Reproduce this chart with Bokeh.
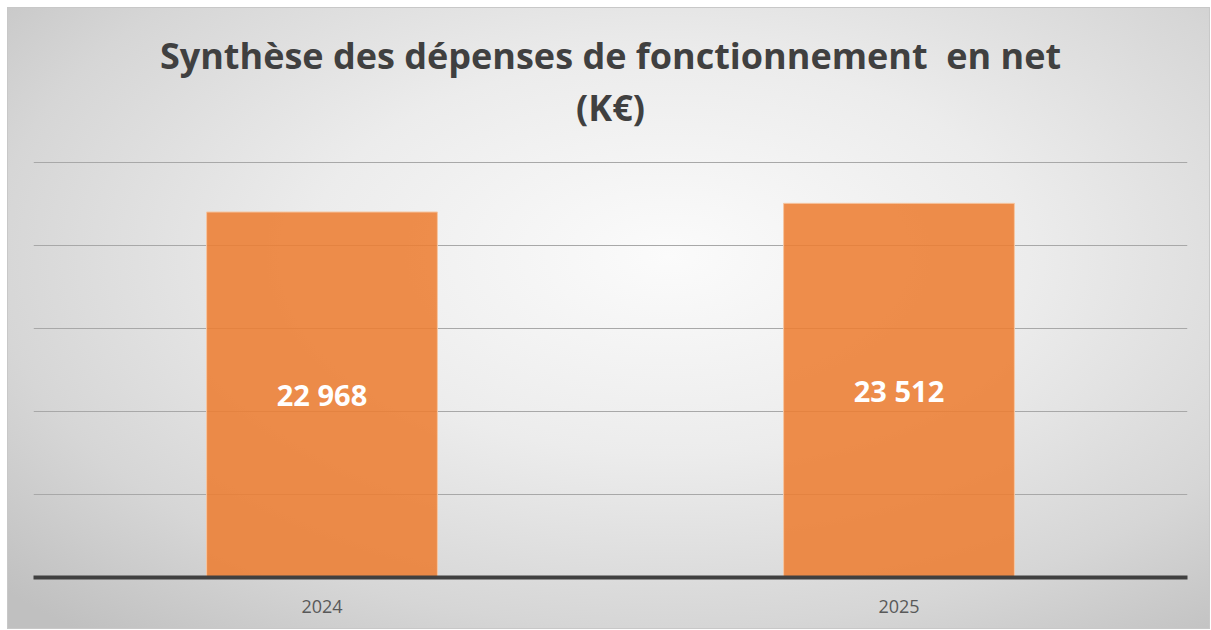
from bokeh.plotting import figure
from bokeh.models import ColumnDataSource, FixedTicker, Label
from bokeh.core.properties import value
from bokeh.embed import file_html
from bokeh.resources import INLINE

# ---- data ----
years = ["2024", "2025"]
amounts = [22968, 23512]
labels = ["22 968", "23 512"]
title_line1 = "Synthèse des dépenses de fonctionnement\u00a0 en net"
title_line2 = "(K€)"

# ---- layout constants ----
Y_MAX = 26100            # value of the top gridline
N_GRID = 5
PLOT_W, PLOT_H = 1203, 622
BORDER_L, BORDER_R, BORDER_B = 25, 24, 53
GRID_H = 415             # pixel height of the gridded area
FRAME_W = PLOT_W - BORDER_L - BORDER_R
FRAME_H = PLOT_H - BORDER_B - 2
UNITS_PER_PX = (Y_MAX + 70) / GRID_H
Y_TOP = FRAME_H * UNITS_PER_PX
TITLE1_PX, TITLE2_PX = 520, 468   # title line centres, px above the baseline

src = ColumnDataSource(dict(x=years, top=amounts, mid=[a / 2 for a in amounts], lab=labels))

p = figure(x_range=years, y_range=(0, Y_TOP), width=PLOT_W, height=PLOT_H,
           output_backend="svg", toolbar_location=None, title=None,
           min_border_left=BORDER_L, min_border_right=BORDER_R, min_border_top=0,
           min_border_bottom=BORDER_B)

p.styles = {"background-image": "radial-gradient(ellipse 75% 80% at 55% 40%, #fbfbfb 0%, #ececec 40%, #d6d6d6 75%, #c0c0c0 100%)",
            "border": "1px solid #c8c8c8",
            "margin-left": "7px", "margin-top": "7px"}
p.background_fill_alpha = 0
p.border_fill_alpha = 0
p.outline_line_color = None

p.vbar(x="x", top="top", width=0.4, source=src, fill_color="#ED7D31",
       fill_alpha=0.87, line_color="#f6c6a2", line_width=1)

p.text(x="x", y="mid", text="lab", source=src, text_color="white",
       text_font=value("Open Sans"), text_font_style="bold",
       text_font_size="29px", text_align="center", text_baseline="middle")

for txt, py in ((title_line1, TITLE1_PX), (title_line2, TITLE2_PX)):
    p.add_layout(Label(x=FRAME_W / 2, x_units="screen", y=py * UNITS_PER_PX,
                       y_units="data", text=txt, text_align="center",
                       text_baseline="middle", text_font="Open Sans",
                       text_font_style="bold", text_font_size="36px",
                       text_color="#404040"))

p.yaxis.visible = False
p.ygrid.ticker = FixedTicker(ticks=[Y_MAX * i / N_GRID for i in range(1, N_GRID + 1)])
p.ygrid.grid_line_color = "#a8a8a8"
p.ygrid.grid_line_width = 1
p.xgrid.grid_line_color = None

ax = p.xaxis[0]
ax.axis_line_color = "#404040"
ax.axis_line_width = 4
ax.major_tick_line_color = None
ax.minor_tick_line_color = None
ax.major_label_text_font = "Open Sans"
ax.major_label_text_font_size = "18px"
ax.major_label_text_color = "#595959"
ax.major_label_standoff = 16
p.x_range.range_padding = 0

open("out.html", "w").write(file_html(p, INLINE))
